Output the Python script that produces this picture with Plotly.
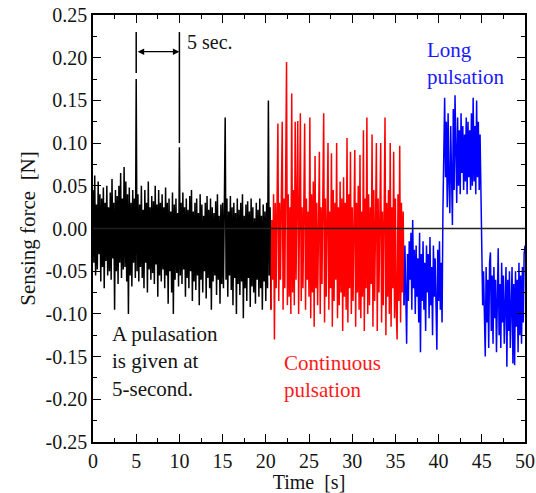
import numpy as np
import plotly.graph_objects as go

# sampling of the hand-read traces (s)
dt = 0.1

# sensing force, in mN, one value per 0.1 s
# black: single pulsation every 5 s, t = 0.0 .. 20.6
black_t0 = 0.0
black_mN = [
    45, -40, 62, -55, 28, -48, 55, -30, 40, -62,
    35, -45, 48, -70, 30, -38, 50, -55, 25, -50,
    42, -60, 58, -35, 30, -95, 45, -50, 38, -65,
    50, -40, 65, -58, 35, -48, 72, -45, 55, -62,
    40, -100, 48, -55, 30, -68, 45, -40, 35, -58,
    175, -50, 40, -62, 28, -45, 50, -58, 22, -70,
    45, -40, 30, -75, 55, -48, 25, -60, 38, -52,
    32, -65, 50, -42, 28, -80, 45, -55, 30, -62,
    40, -48, 25, -70, 48, -55, 30, -88, 35, -50,
    20, -75, 42, -100, 28, -60, 35, -52, 18, -68,
    95, -55, 30, -65, 42, -48, 25, -80, 35, -58,
    22, -70, 38, -50, 45, -85, 20, -62, 30, -72,
    35, -55, 18, -90, 40, -60, 28, -75, 15, -50,
    30, -82, 38, -58, 22, -70, 35, -95, 25, -62,
    18, -55, 32, -78, 40, -60, 15, -88, 28, -65,
    30, -70, 25, 130, -60, 35, -80, 20, -55, 38,
    -72, 25, -90, 30, -58, 18, -100, 35, -65, 22,
    -78, 30, -62, 40, -105, 15, -70, 28, -85, 32,
    -58, 20, -92, 35, -68, 25, -75, 12, -88, 30,
    -60, 22, -80, 35, -70, 15, -95, 28, -62, 20,
    -85, 30, -70, 150, -55, 25, -95,
]

# red: continuous pulsation, t = 20.6 .. 36.0
red_t0 = 20.6
red_mN = [
    -95, 10, -60, 40,
    -130, 30, -70, 45, 123, -85, 30, -60, 20, 125,
    -95, 35, -70, 50, 195, -90, 40, -80, 25, -100,
    158, -75, 45, -90, 125, -60, 30, 126, -100, 40,
    135, -85, 25, -70, 50, 123, -95, 35, -60, 20,
    -80, 130, -105, 40, -75, 55, -115, 85, -70, 30,
    -90, 45, 90, -100, 25, -65, 50, 135, -110, 35,
    -80, 40, 100, -95, 20, -70, 88, -115, 45, -85,
    30, -60, 100, -105, 25, -90, 55, -75, 35, -120,
    60, -80, 30, -95, 106, -110, 40, -70, 90, -100,
    25, -85, 45, 92, -115, 30, -75, 50, -95, 86,
    -105, 20, -80, 115, -120, 35, -70, 130, -100, 40,
    -90, 25, -65, 110, -115, 45, -85, 30, 100, -120,
    35, -75, 50, 100, -110, 20, -90, 40, 130, -125,
    30, -80, 45, -100, 100, -115, 25, -70, 90, -105,
    35, -95, -130, 40, -85, 97, -110, 30, -75, 20,
    -90,
]

# blue: long pulsation, t = 36.0 .. 50.0
blue_t0 = 36.0
blue_mN = [
    -90, -20, -75, -135, -30, -85, -15, -60, -5, -95,
    10, -70, -25, -100, -20, -80, -35, -110, -5, -145,
    -30, -85, -15, -95, -40, -120, -20, -75, -30, -105,
    -10, -90, -45, -125, -20, -80, -35, -100, -142, -25,
    -85, -15, -95, -40, -110,
    20, 110, 153, 60, 125, 25, 135, 55, 18, 120,
    70, 4, 140, 45, 156, 60, 30, 130, 50, 115,
    40, 135, 65, 120, 45, 110, 55, 130, 40, 125,
    60, 115, 45, 135, 50, 153, 55, 120, 40, 150,
    60, 125, 45, 110, 55,
    -20, -90, -50, -130, -150, -45, -110, -60, -140, -40,
    -28, -120, -55, -135, -45, -105, -60, -145, -50, -23,
    -125, -65, -140, -40, -110, -55, -135, -70, -45, -162,
    -60, -120, -50, -140, -75, -45, -158, -65, -160, -50,
    -115, -60, -145, -40, -125, -55, -135, -45, -110, -30,
    -20,
]

x_ticks = [0, 5, 10, 15, 20, 25, 30, 35, 40, 45, 50]
y_ticks = [-0.25, -0.20, -0.15, -0.10, -0.05, 0.00, 0.05, 0.10, 0.15, 0.20, 0.25]
y_ticktext = ["-0.25", "-0.20", "-0.15", "-0.10", "-0.05", "0.00",
              "0.05", "0.10", "0.15", "0.20", "0.25"]

FONT = '"Liberation Serif", "Times New Roman", Times, "DejaVu Serif", serif'
INK = "#141414"


def trace(t0, vals, color):
	y = np.array(vals) / 1000.0
	t = t0 + dt * np.arange(len(vals))
	return go.Scatter(x=t, y=y, mode="lines", line=dict(color=color, width=1.5),
					  hoverinfo="skip", showlegend=False)


fig = go.Figure()
fig.add_trace(trace(black_t0, black_mN, "#000000"))
fig.add_trace(trace(red_t0, red_mN, "#ff0000"))
fig.add_trace(trace(blue_t0, blue_mN, "#0000ff"))

# zero line on top of the traces
fig.add_shape(type="line", xref="paper", yref="y", x0=0, x1=1, y0=0, y1=0,
			  line=dict(color="#202020", width=1.3), layer="above")

# 5 sec. marker
fig.add_shape(type="line", x0=5, x1=5, y0=0.182, y1=0.230, line=dict(color="#000", width=1.5))
fig.add_shape(type="line", x0=10, x1=10, y0=0.100, y1=0.230, line=dict(color="#000", width=1.5))
fig.add_annotation(x=10, y=0.207, ax=5, ay=0.207, xref="x", yref="y", axref="x", ayref="y",
				   text="", showarrow=True, arrowhead=2, startarrowhead=2, arrowside="end+start",
				   arrowsize=1, arrowwidth=1.3, arrowcolor="#000", standoff=0, startstandoff=0)
fig.add_annotation(x=10.6, y=0.218, text="5 sec.", showarrow=False, xanchor="left",
				   font=dict(family=FONT, size=20, color=INK))

fig.add_annotation(x=2.0, y=-0.156, text="A pulasation<br>is given at<br>5-second.",
				   showarrow=False, xanchor="left", yanchor="middle", align="left",
				   font=dict(family=FONT, size=21, color=INK))
fig.add_annotation(x=21.9, y=-0.173, text="Continuous<br>pulsation",
				   showarrow=False, xanchor="left", yanchor="middle", align="left",
				   font=dict(family=FONT, size=21, color="#ff1a1a"))
fig.add_annotation(x=38.4, y=0.193, text="Long<br>pulsation",
				   showarrow=False, xanchor="left", yanchor="middle", align="left",
				   font=dict(family=FONT, size=21, color="#1a1aff"))

axis_common = dict(showline=True, linecolor="#000", linewidth=1.5, mirror="ticks",
				   ticks="inside", ticklen=8, tickwidth=1.2, tickcolor="#000",
				   showgrid=False, zeroline=False, automargin=False,
				   ticklabeloverflow="allow",
				   tickfont=dict(family=FONT, size=20, color=INK))

fig.update_xaxes(range=[0, 50], tickvals=x_ticks,
				 minor=dict(ticks="inside", ticklen=4, dtick=2.5, tickcolor="#000", tickwidth=1.2),
				 title=dict(text="Time\u00a0\u00a0[s]", font=dict(family=FONT, size=20, color=INK), standoff=0),
				 **axis_common)
fig.update_yaxes(range=[-0.25, 0.25], tickvals=y_ticks, ticktext=y_ticktext,
				 minor=dict(ticks="inside", ticklen=4, dtick=0.025, tickcolor="#000", tickwidth=1.2),
				 title=dict(text="Sensing force\u00a0\u00a0[N]", font=dict(family=FONT, size=21, color=INK), standoff=4),
				 **axis_common)

fig.update_layout(width=536, height=493, margin=dict(l=93, r=11, t=15, b=51),
				  font=dict(family=FONT),
				  plot_bgcolor="white", paper_bgcolor="white")

# drop the page's default 8 px body margin so the figure fills the window
fig.write_html("out.html", config={"displayModeBar": False},
			   post_script="document.body.style.margin='0';")
